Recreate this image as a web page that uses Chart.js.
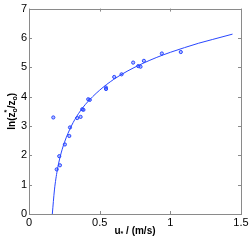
<!DOCTYPE html>
<html>
<head>
<meta charset="utf-8">
<script src="https://cdn.jsdelivr.net/npm/chart.js@4/dist/chart.umd.min.js"></script>
<style>
  html, body { margin: 0; padding: 0; background: #fff; }
  #wrap { width: 251px; height: 242px; }
</style>
</head>
<body>
<div id="wrap"><canvas id="myChart" width="251" height="242"></canvas></div>
<script>
// measured points
var uStar = [0.172, 0.196, 0.214, 0.219, 0.254, 0.285, 0.29, 0.341, 0.365, 0.377, 0.385, 0.419, 0.43, 0.544, 0.545, 0.603, 0.655, 0.737, 0.773, 0.789, 0.813, 0.94, 1.074];
var lnRatio = [3.29, 1.52, 1.97, 1.66, 2.37, 2.66, 2.95, 3.27, 3.31, 3.57, 3.55, 3.91, 3.89, 4.31, 4.26, 4.67, 4.76, 5.16, 5.04, 5.02, 5.22, 5.47, 5.52];

// fitted curve
var fitX = [0.165, 0.18, 0.2, 0.22, 0.25, 0.3, 0.35, 0.4, 0.5, 0.6, 0.7, 0.8, 0.9, 1.0, 1.1, 1.2, 1.3, 1.44];
var fitY = [0, 0.82, 1.49, 1.94, 2.43, 3.0, 3.42, 3.74, 4.22, 4.59, 4.88, 5.12, 5.33, 5.51, 5.67, 5.82, 5.95, 6.13];

var xTicks = [0, 0.5, 1, 1.5];
var yTicks = [0, 1, 2, 3, 4, 5, 6, 7];

var blue = 'rgb(40,70,255)';
var boxColor = '#8a8a8a';

function pts(xs, ys) {
    return xs.map(function(x, i) { return {x: x, y: ys[i]}; });
}

// box round the plot with inside ticks on all four sides, and the axis titles
var boxPlugin = {
    id: 'box',
    afterDraw: function(chart) {
        var ctx = chart.ctx;
        var a = chart.chartArea;
        var sx = chart.scales.x, sy = chart.scales.y;
        ctx.save();
        ctx.strokeStyle = boxColor;
        ctx.lineWidth = 1;
        ctx.strokeRect(Math.round(a.left) + 0.5, Math.round(a.top) + 0.5,
                       Math.round(a.right - a.left), Math.round(a.bottom - a.top));
        ctx.beginPath();
        xTicks.forEach(function(v) {
            var p = Math.round(sx.getPixelForValue(v)) + 0.5;
            ctx.moveTo(p, a.bottom); ctx.lineTo(p, a.bottom - 3);
            ctx.moveTo(p, a.top); ctx.lineTo(p, a.top + 3);
        });
        yTicks.forEach(function(v) {
            var p = Math.round(sy.getPixelForValue(v)) + 0.5;
            ctx.moveTo(a.left, p); ctx.lineTo(a.left + 3, p);
            ctx.moveTo(a.right, p); ctx.lineTo(a.right - 3, p);
        });
        ctx.stroke();

        // x title: u* / (m/s)
        ctx.fillStyle = '#000';
        ctx.textBaseline = 'alphabetic';
        var big = 'bold 10px "Liberation Sans", Arial, sans-serif';
        var small = 'bold 7px "Liberation Sans", Arial, sans-serif';
        var parts = [['u', big, 0], ['*', small, 2], [' / (m/s)', big, 0]];
        drawParts(ctx, parts, (a.left + a.right) / 2, 234);

        // y title: ln(z0*/z0)
        ctx.translate(15, (a.top + a.bottom) / 2);
        ctx.rotate(-Math.PI / 2);
        var partsY = [['ln(z', big, 0], ['o', small, 2], ['*', small, -6, true], ['/z', big, 0], ['o', small, 2], [')', big, 0]];
        drawParts(ctx, partsY, 0, 0);
        ctx.restore();
    }
};

function drawParts(ctx, parts, cx, base) {
    var w = 0;
    parts.forEach(function(p) {
        ctx.font = p[1];
        if (!p[3]) w += ctx.measureText(p[0]).width;
    });
    var x = cx - w / 2;
    var lastW = 0;
    parts.forEach(function(p) {
        ctx.font = p[1];
        var tw = ctx.measureText(p[0]).width;
        if (p[3]) {
            ctx.fillText(p[0], x - lastW, base + p[2]);
        } else {
            ctx.fillText(p[0], x, base + p[2]);
            x += tw;
            lastW = tw;
        }
    });
}

var config = {
    type: 'scatter',
    data: {
        datasets: [{
            label: 'fit',
            type: 'line',
            data: pts(fitX, fitY),
            borderColor: blue,
            borderWidth: 1,
            pointRadius: 0,
            cubicInterpolationMode: 'monotone',
            fill: false
        }, {
            label: 'data',
            data: pts(uStar, lnRatio),
            borderColor: blue,
            backgroundColor: 'rgba(40,70,255,0.35)',
            borderWidth: 1,
            pointRadius: 1.6
        }]
    },
    options: {
        responsive: false,
        animation: false,
        layout: {padding: {top: 7, right: 10, left: 0, bottom: 0}},
        plugins: {legend: {display: false}, tooltip: {enabled: false}},
        scales: {
            x: {
                type: 'linear',
                min: 0, max: 1.5,
                afterBuildTicks: function(s) { s.ticks = xTicks.map(function(v) { return {value: v}; }); },
                afterFit: function(s) { s.height = 28; },
                grid: {display: false, drawTicks: false},
                border: {display: false},
                ticks: {
                    color: '#000', padding: 2,
                    font: {family: '"Liberation Sans", Arial, sans-serif', size: 11},
                    maxRotation: 0,
                    callback: function(v) { return String(v); }
                }
            },
            y: {
                type: 'linear',
                min: 0, max: 7,
                afterBuildTicks: function(s) { s.ticks = yTicks.map(function(v) { return {value: v}; }); },
                afterFit: function(s) { s.width = 29; },
                grid: {display: false, drawTicks: false},
                border: {display: false},
                ticks: {
                    color: '#000', padding: 2,
                    font: {family: '"Liberation Sans", Arial, sans-serif', size: 11}
                }
            }
        }
    },
    plugins: [boxPlugin]
};

var ctx = document.getElementById('myChart').getContext('2d');
var myChart = new Chart(ctx, config);
</script>
</body>
</html>
